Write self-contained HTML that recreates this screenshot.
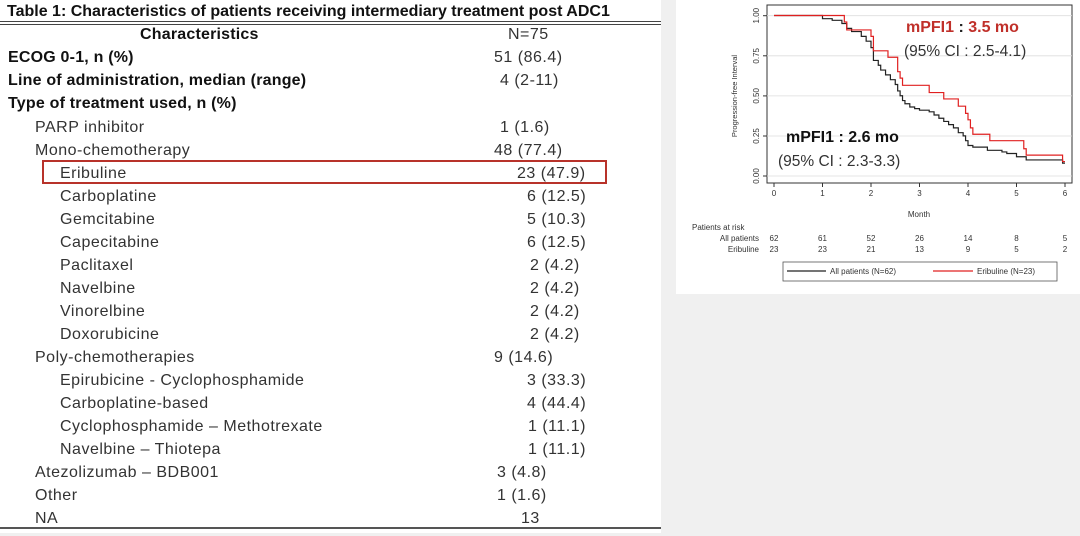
<!DOCTYPE html>
<html><head><meta charset="utf-8"><style>
body{margin:0;width:1080px;height:536px;background:#f0f0f0;position:relative;overflow:hidden;font-family:"Liberation Sans",sans-serif}
#tbl{position:absolute;left:0;top:0;width:661px;height:533px;background:#fff}
#tbl div{position:absolute;font-size:16px;color:#333;white-space:nowrap;letter-spacing:0.5px;line-height:18px;margin-top:3px}
#tbl .b{font-weight:bold;color:#111;letter-spacing:0.2px}
#tbl .r{margin-top:0}
#chart{position:absolute;left:676px;top:0;width:404px;height:294px;background:#fff}
</style></head><body>
<div id="tbl">
<div class="b" style="left:7px;top:0px;font-size:16px;letter-spacing:0px">Table 1: Characteristics of patients receiving intermediary treatment post ADC1</div>
<div class="r" style="left:0;top:21px;width:661px;height:0;border-top:4px double #444"></div>
<div class="b" style="left:140px;top:23px">Characteristics</div><div style="left:508px;top:23px">N=75</div>
<div class="b" style="left:8px;top:46px">ECOG 0-1, n (%)</div><div style="left:494px;top:46px">51 (86.4)</div>
<div class="b" style="left:8px;top:69px">Line of administration, median (range)</div><div style="left:500px;top:69px">4 (2-11)</div>
<div class="b" style="left:8px;top:92px">Type of treatment used, n (%)</div>
<div style="left:35px;top:116px">PARP inhibitor</div><div style="left:500px;top:116px">1 (1.6)</div>
<div style="left:35px;top:139px">Mono-chemotherapy</div><div style="left:494px;top:139px">48 (77.4)</div>
<div class="r" style="left:42px;top:160px;width:561px;height:20px;border:2px solid #b8322a"></div>
<div style="left:60px;top:162px">Eribuline</div><div style="left:517px;top:162px">23 (47.9)</div>
<div style="left:60px;top:185px">Carboplatine</div><div style="left:527px;top:185px">6 (12.5)</div>
<div style="left:60px;top:208px">Gemcitabine</div><div style="left:527px;top:208px">5 (10.3)</div>
<div style="left:60px;top:231px">Capecitabine</div><div style="left:527px;top:231px">6 (12.5)</div>
<div style="left:60px;top:254px">Paclitaxel</div><div style="left:530px;top:254px">2 (4.2)</div>
<div style="left:60px;top:277px">Navelbine</div><div style="left:530px;top:277px">2 (4.2)</div>
<div style="left:60px;top:300px">Vinorelbine</div><div style="left:530px;top:300px">2 (4.2)</div>
<div style="left:60px;top:323px">Doxorubicine</div><div style="left:530px;top:323px">2 (4.2)</div>
<div style="left:35px;top:346px">Poly-chemotherapies</div><div style="left:494px;top:346px">9 (14.6)</div>
<div style="left:60px;top:369px">Epirubicine - Cyclophosphamide</div><div style="left:527px;top:369px">3 (33.3)</div>
<div style="left:60px;top:392px">Carboplatine-based</div><div style="left:527px;top:392px">4 (44.4)</div>
<div style="left:60px;top:415px">Cyclophosphamide – Methotrexate</div><div style="left:528px;top:415px">1 (11.1)</div>
<div style="left:60px;top:438px">Navelbine – Thiotepa</div><div style="left:528px;top:438px">1 (11.1)</div>
<div style="left:35px;top:461px">Atezolizumab – BDB001</div><div style="left:497px;top:461px">3 (4.8)</div>
<div style="left:35px;top:484px">Other</div><div style="left:497px;top:484px">1 (1.6)</div>
<div style="left:35px;top:507px">NA</div><div style="left:521px;top:507px">13</div>
<div class="r" style="left:0;top:527px;width:661px;height:0;border-top:2px solid #555"></div>
</div>
<div id="chart">
<svg width="404" height="294" viewBox="676 0 404 294" style="position:absolute;left:0;top:0" font-family="Liberation Sans, sans-serif">
<rect x="767" y="5" width="305" height="178" fill="none" stroke="#333" stroke-width="1"/>
<g stroke="#ddd" stroke-width="0.8">
<line x1="767" y1="15.7" x2="1072" y2="15.7"/><line x1="767" y1="55.8" x2="1072" y2="55.8"/><line x1="767" y1="95.9" x2="1072" y2="95.9"/><line x1="767" y1="136" x2="1072" y2="136"/><line x1="767" y1="176" x2="1072" y2="176"/>
</g>
<g stroke="#333" stroke-width="1">
<line x1="763" y1="15.7" x2="767" y2="15.7"/><line x1="763" y1="55.8" x2="767" y2="55.8"/><line x1="763" y1="95.9" x2="767" y2="95.9"/><line x1="763" y1="136" x2="767" y2="136"/><line x1="763" y1="176" x2="767" y2="176"/>
<line x1="774" y1="183" x2="774" y2="187"/><line x1="822.5" y1="183" x2="822.5" y2="187"/><line x1="871" y1="183" x2="871" y2="187"/><line x1="919.5" y1="183" x2="919.5" y2="187"/><line x1="968" y1="183" x2="968" y2="187"/><line x1="1016.5" y1="183" x2="1016.5" y2="187"/><line x1="1065" y1="183" x2="1065" y2="187"/>
</g>
<g font-size="8" fill="#333" text-anchor="middle">
<text transform="translate(759,15.7) rotate(-90)">1.00</text>
<text transform="translate(759,55.8) rotate(-90)">0.75</text>
<text transform="translate(759,95.9) rotate(-90)">0.50</text>
<text transform="translate(759,136) rotate(-90)">0.25</text>
<text transform="translate(759,176) rotate(-90)">0.00</text>
<text transform="translate(737,96) rotate(-90)" font-size="7.5">Progression-free Interval</text>
<text x="774" y="196">0</text><text x="822.5" y="196">1</text><text x="871" y="196">2</text><text x="919.5" y="196">3</text><text x="968" y="196">4</text><text x="1016.5" y="196">5</text><text x="1065" y="196">6</text>
<text x="919" y="217">Month</text>
<text x="774" y="241">62</text><text x="822.5" y="241">61</text><text x="871" y="241">52</text><text x="919.5" y="241">26</text><text x="968" y="241">14</text><text x="1016.5" y="241">8</text><text x="1065" y="241">5</text>
<text x="774" y="252">23</text><text x="822.5" y="252">23</text><text x="871" y="252">21</text><text x="919.5" y="252">13</text><text x="968" y="252">9</text><text x="1016.5" y="252">5</text><text x="1065" y="252">2</text>
</g>
<g font-size="8" fill="#333">
<text x="692" y="230">Patients at risk</text>
<text x="759" y="241" text-anchor="end">All patients</text>
<text x="759" y="252" text-anchor="end">Eribuline</text>
</g>
<g transform="translate(774,176) scale(48.5,-160.5)" fill="none" stroke-width="1.2">
<path vector-effect="non-scaling-stroke" stroke="#222" d="M0 1H1V0.98H1.2V0.97H1.4V0.95H1.5V0.92H1.6V0.9H1.8V0.87H1.9V0.84H2V0.8H2.05V0.72H2.15V0.69H2.2V0.66H2.3V0.63H2.4V0.6H2.5V0.57H2.55V0.53H2.6V0.5H2.65V0.47H2.7V0.45H2.8V0.43H2.9V0.42H3V0.41H3.2V0.40H3.3V0.38H3.4V0.36H3.5V0.34H3.6V0.32H3.7V0.30H3.8V0.27H3.9V0.25H3.95V0.22H4.0V0.19H4.1V0.18H4.4V0.16H4.7V0.15H4.8V0.14H5.0V0.12H5.2V0.10H5.95V0.08H6"/>
<path vector-effect="non-scaling-stroke" stroke="#e02020" d="M0 1H1.45V0.96H1.5V0.91H2.0V0.87H2.05V0.78H2.35V0.74H2.55V0.65H2.6V0.61H2.65V0.565H3.2V0.52H3.5V0.48H3.8V0.435H3.95V0.39H4.0V0.35H4.05V0.30H4.1V0.26H4.45V0.22H5.15V0.17H5.2V0.13H5.95V0.09H6"/>
</g>
<text x="906" y="32" font-size="16" font-weight="bold" fill="#c0302a">mPFI1 <tspan fill="#222">:</tspan> 3.5 mo</text>
<text x="904" y="56" font-size="15.5" fill="#333">(95% CI : 2.5-4.1)</text>
<text x="786" y="142" font-size="16" font-weight="bold" fill="#111">mPFI1 : 2.6 mo</text>
<text x="778" y="166" font-size="15.5" fill="#333">(95% CI : 2.3-3.3)</text>
<rect x="783" y="262" width="274" height="19" fill="#fff" stroke="#555" stroke-width="0.8"/>
<line x1="787" y1="271" x2="826" y2="271" stroke="#222" stroke-width="1.2"/>
<text x="830" y="274" font-size="8" fill="#333">All patients (N=62)</text>
<line x1="933" y1="271" x2="973" y2="271" stroke="#e02020" stroke-width="1.2"/>
<text x="977" y="274" font-size="8" fill="#333">Eribuline (N=23)</text>
</svg>
</div>
</body></html>
